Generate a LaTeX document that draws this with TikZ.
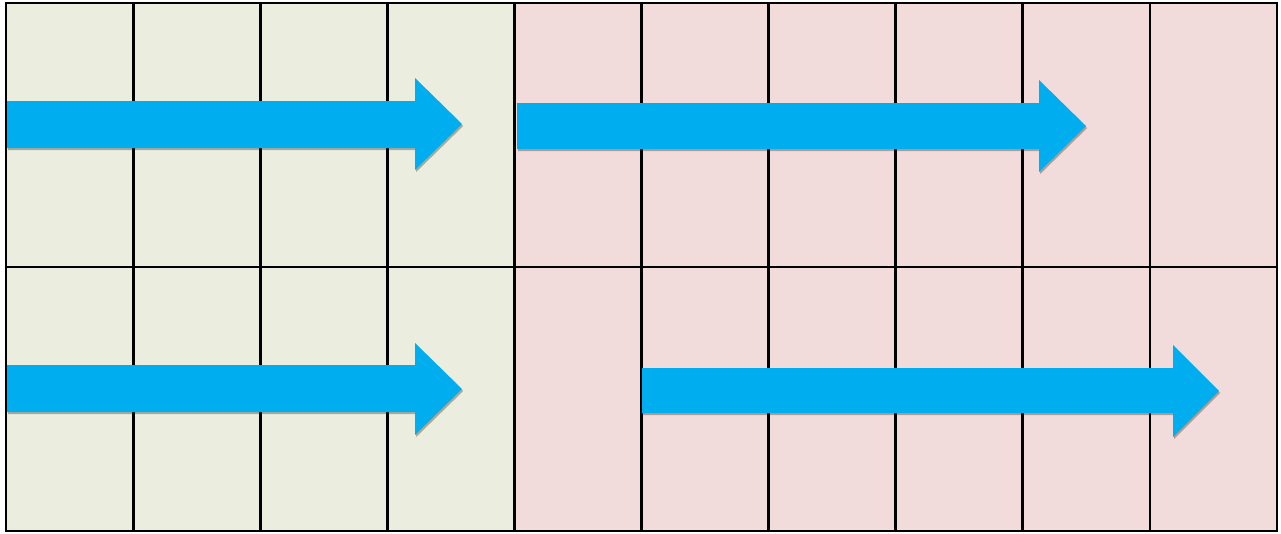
\documentclass[tikz,border=0pt]{standalone}
\usetikzlibrary{shadows}
\definecolor{greenbg}{HTML}{EBEEDF}
\definecolor{pinkbg}{HTML}{F2DCDB}
\definecolor{arrowblue}{HTML}{00AEEF}
\tikzset{
  gridline/.style={line width=2.8pt, black},
  bigarrow/.style={fill=arrowblue, draw=none,
    drop shadow={shadow xshift=1.2pt, shadow yshift=-2pt, opacity=0.35, fill=black!70!brown}},
}
\begin{document}
\begin{tikzpicture}[x=1pt,y=-1pt]
\useasboundingbox (0,0) rectangle (1281,533);
% backgrounds
\fill[white] (0,0) rectangle (1281,533);
\fill[greenbg] (6,3) rectangle (514,531);
\fill[pinkbg] (514,3) rectangle (1277,531);
% grid lines
\foreach \i in {0,...,10}{
  \draw[gridline] ({6+127.1*\i},3) -- ({6+127.1*\i},531);
}
\draw[gridline] (4.6,3) -- (1278.4,3);
\draw[gridline] (4.6,267) -- (1278.4,267);
\draw[gridline] (4.6,531) -- (1278.4,531);
% arrows: x0, shaft top, shaft bottom, head x, head top, head bottom, tip x
\foreach \xa/\sa/\sb/\xh/\ha/\hb/\xt in {
  7/101/148/415/78/170/462,
  517/103/149/1039/80/172/1086,
  7/365/412/415/343/435/462,
  642/368/413/1173/345/437/1219}{
  \path[bigarrow] (\xa,\sa) -- (\xh,\sa) -- (\xh,\ha) -- (\xt,{(\ha+\hb)/2}) -- (\xh,\hb) -- (\xh,\sb) -- (\xa,\sb) -- cycle;
}
\end{tikzpicture}
\end{document}
